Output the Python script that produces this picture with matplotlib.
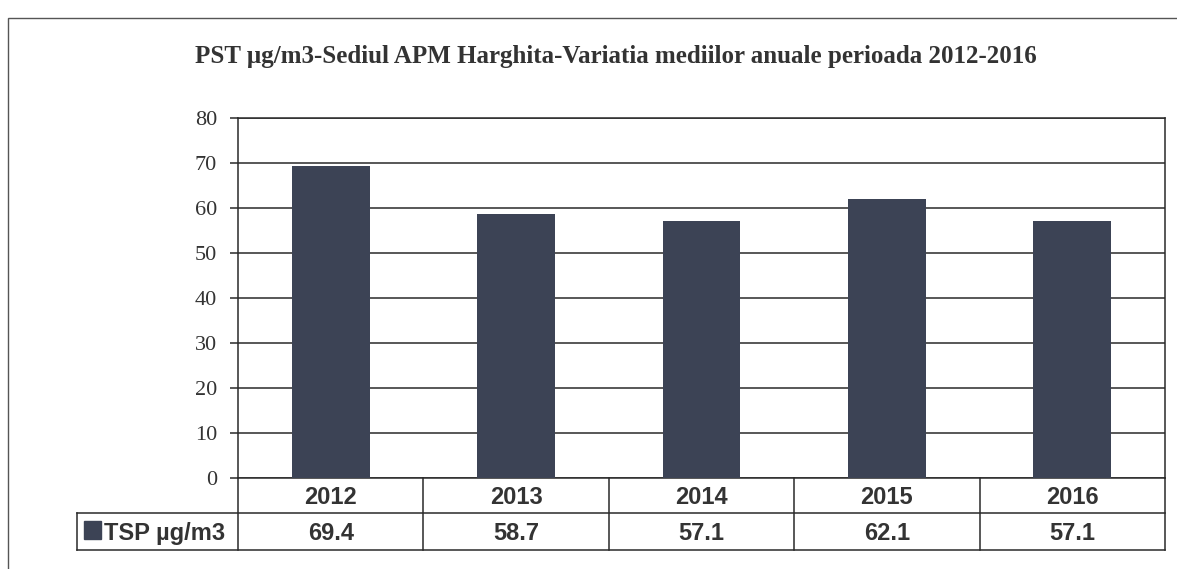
import matplotlib.pyplot as plt
from matplotlib.patches import Rectangle
from matplotlib.lines import Line2D

years = ['2012', '2013', '2014', '2015', '2016']
tsp = [69.4, 58.7, 57.1, 62.1, 57.1]
series_name = 'TSP µg/m3'
title = 'PST µg/m3-Sediul APM Harghita-Variatia mediilor anuale perioada 2012-2016'

bar_color = '#3c4355'
text_color = '#333333'
line_color = '#2a2a2a'

W, H = 1177, 569
fig = plt.figure(figsize=(W / 100, H / 100), dpi=100)


def fx(px):
    return px / W


def fy(py):
    return 1 - py / H


# outer chart frame (right/bottom edges fall outside the scan)
fig.patches.append(Rectangle((fx(8), -0.05), 1.0, fy(18) + 0.05,
                             transform=fig.transFigure, fill=False,
                             edgecolor='#555555', lw=1.0))

# plot area
left, right, top, bottom = 238, 1165, 118, 478
ax = fig.add_axes([fx(left), fy(bottom), fx(right - left), (bottom - top) / H])

x = range(len(years))
ax.bar(x, tsp, width=0.42, color=bar_color, zorder=3)
ax.set_xlim(-0.5, len(years) - 0.5)
ax.set_ylim(0, 80)
ax.set_yticks(range(0, 81, 10))
ax.set_xticks([])
ax.grid(axis='y', color=line_color, lw=1.1, zorder=0)
for s in ax.spines.values():
    s.set_color(line_color)
    s.set_linewidth(1.1)
ax.tick_params(axis='y', direction='out', length=6, width=1.1, pad=9,
               labelsize=16, labelcolor=text_color, color=line_color)
for lab in ax.get_yticklabels():
    lab.set_fontfamily('Liberation Serif')

# data table drawn in figure pixels, columns follow the bar positions
row1_top, row1_bot, row2_bot = bottom, 513, 550
lab_left = 77
col_w = (right - left) / len(years)


def hline(x0, x1, y):
    fig.add_artist(Line2D([fx(x0), fx(x1)], [fy(y), fy(y)], color=line_color,
                          lw=1.1, transform=fig.transFigure))


def vline(xp, y0, y1):
    fig.add_artist(Line2D([fx(xp), fx(xp)], [fy(y0), fy(y1)], color=line_color,
                          lw=1.1, transform=fig.transFigure))


hline(lab_left, right, row1_bot)
hline(lab_left, right, row2_bot)
vline(lab_left, row1_bot, row2_bot)
for i in range(len(years) + 1):
    vline(left + i * col_w, row1_top, row2_bot)

cell_font = dict(fontsize=17, fontweight='bold', family='Liberation Sans',
                 color=text_color, ha='center', va='center')
for i, (yr, v) in enumerate(zip(years, tsp)):
    cx = left + (i + 0.5) * col_w
    fig.text(fx(cx), fy((row1_top + row1_bot) / 2 + 2), yr, **cell_font)
    fig.text(fx(cx), fy((row1_bot + row2_bot) / 2 + 2), f'{v:.1f}', **cell_font)

# legend key in the row label cell
fig.patches.append(Rectangle((fx(84), fy(539)), fx(17), 18 / H,
                             transform=fig.transFigure, color=bar_color))
fig.text(fx(104), fy((row1_bot + row2_bot) / 2 + 2), series_name,
         fontsize=17, fontweight='bold', family='Liberation Sans',
         color=text_color, ha='left', va='center')

fig.text(fx(616), fy(56), title, ha='center', va='center',
         fontsize=18, fontweight='bold', family='Liberation Serif',
         color=text_color)

fig.savefig('out.png', dpi=100)
